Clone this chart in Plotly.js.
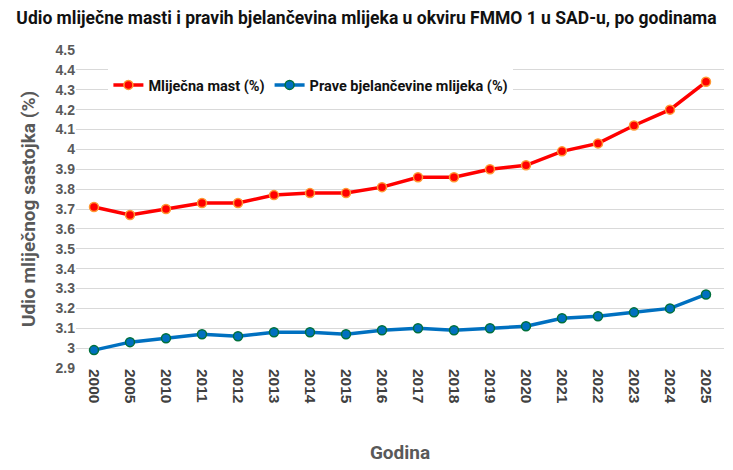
<!DOCTYPE html>
<html>
<head>
<meta charset="utf-8">
<script src="https://cdn.plot.ly/plotly-3.0.1.min.js"></script>
<style>
  body { margin: 0; background: #fff; }
  #myDiv { width: 733px; height: 470px; }
</style>
</head>
<body>
<div id="myDiv"></div>
<script>
// Godine (kategorije na x osi)
var years = ['2000', '2005', '2010', '2011', '2012', '2013', '2014', '2015', '2016',
  '2017', '2018', '2019', '2020', '2021', '2022', '2023', '2024', '2025'];

// Mliječna mast (%)
var fat = [3.71, 3.67, 3.70, 3.73, 3.73, 3.77, 3.78, 3.78, 3.81,
  3.86, 3.86, 3.90, 3.92, 3.99, 4.03, 4.12, 4.20, 4.34];

// Prave bjelančevine mlijeka (%)
var protein = [2.99, 3.03, 3.05, 3.07, 3.06, 3.08, 3.08, 3.07, 3.09,
  3.10, 3.09, 3.10, 3.11, 3.15, 3.16, 3.18, 3.20, 3.27];

var trace1 = {
  name: 'Mliječna mast (%)',
  x: years,
  y: fat,
  type: 'scatter',
  mode: 'lines+markers',
  line: {color: '#ff0000', width: 3.5},
  marker: {color: '#ff0000', size: 9, line: {color: '#ff9933', width: 1.5}}
};
var trace2 = {
  name: 'Prave bjelančevine mlijeka (%)',
  x: years,
  y: protein,
  type: 'scatter',
  mode: 'lines+markers',
  line: {color: '#0070c0', width: 3.5},
  marker: {color: '#0070c0', size: 9, line: {color: '#00703c', width: 1.5}}
};

var data = [trace1, trace2];

var narrow = 'Liberation Sans Narrow, Roboto, sans-serif';

var layout = {
  width: 733,
  height: 470,
  margin: {l: 76, r: 9, t: 50, b: 102},
  paper_bgcolor: '#ffffff',
  plot_bgcolor: '#ffffff',
  title: {
    text: '<b>Udio mliječne masti i pravih bjelančevina mlijeka u okviru FMMO 1 u SAD-u, po godinama</b>',
    font: {family: narrow, size: 17.5, color: '#111111'},
    x: 0.5, xanchor: 'center', y: 0.975, yanchor: 'top'
  },
  showlegend: true,
  legend: {
    orientation: 'h',
    x: 0.05, y: 0.89, xanchor: 'left', yanchor: 'middle',
    bgcolor: '#ffffff',
    font: {family: narrow, size: 14.5, color: '#111111', weight: 'bold'}
  },
  xaxis: {
    type: 'category',
    range: [-0.5, 17.5],
    tickangle: 90,
    tickfont: {family: 'Liberation Sans, Arial, sans-serif', size: 15.5, color: '#404040', weight: 'bold'},
    showgrid: false,
    zeroline: false,
    showline: false,
    ticks: '',
    title: {
      text: '<b>Godina</b>',
      font: {family: narrow, size: 19, color: '#595959'},
      standoff: 42
    }
  },
  yaxis: {
    range: [2.9, 4.5],
    dtick: 0.1,
    tick0: 2.9,
    tickfont: {family: 'Liberation Sans, Arial, sans-serif', size: 14, color: '#595959', weight: 'bold'},
    gridcolor: '#d9d9d9',
    gridwidth: 1,
    zeroline: false,
    showline: false,
    ticks: '',
    title: {
      text: '<b>Udio mliječnog sastojka (%)</b>',
      font: {family: narrow, size: 19, color: '#595959'},
      standoff: 14
    }
  }
};

Plotly.newPlot('myDiv', data, layout, {displayModeBar: false, staticPlot: true});
</script>
</body>
</html>
